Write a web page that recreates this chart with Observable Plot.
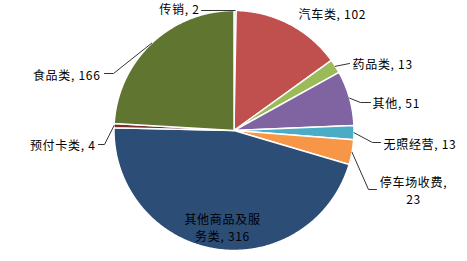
<!DOCTYPE html>
<html>
<head>
<meta charset="utf-8">
<script src="https://cdn.jsdelivr.net/npm/d3@7"></script>
<script src="https://cdn.jsdelivr.net/npm/@observablehq/plot@0.6"></script>
<style>
  html, body { margin: 0; padding: 0; background: #fff; }
  #chart svg { display: block; }
  #chart svg text { letter-spacing: 0.7px; }
</style>
</head>
<body>
<div id="chart"></div>
<script>
// ---- data ----
const categories = ["传销", "汽车类", "药品类", "其他", "无照经营", "停车场收费", "其他商品及服务类", "预付卡类", "食品类"];
const values = [2, 102, 13, 51, 13, 23, 316, 4, 166];
const colors = ["#4F81BD", "#C0504D", "#9BBB59", "#8064A2", "#4BACC6", "#F79646", "#2C4D75", "#772C2A", "#5F7530"];

// ---- label layout (in pie-radius units, center = 0,0) ----
const labelPos = [
  {x: -0.2875, y: 1.017, anchor: "end",    wrap: null, leader: [[-0.2708, 1.0]]},
  {x: 0.5375,  y: 0.975, anchor: "start",  wrap: null, leader: null},
  {x: 0.9875,  y: 0.558, anchor: "start",  wrap: null, leader: [[0.9625, 0.5583]]},
  {x: 1.1542,  y: 0.233, anchor: "start",  wrap: null, leader: [[1.1375, 0.2333], [1.0542, 0.2333]]},
  {x: 1.2458,  y: -0.108, anchor: "start", wrap: null, leader: [[1.2208, -0.1], [1.1542, -0.1]]},
  {x: 1.4958,  y: -0.50, anchor: "middle", wrap: "comma", leader: [[1.1875, -0.4917], [1.1208, -0.4917]]},
  {x: -0.0958, y: -0.808, anchor: "middle", wrap: 6, leader: null},
  {x: -1.1542, y: -0.117, anchor: "end",   wrap: null, leader: [[-1.1292, -0.1167], [-1.0792, -0.1167]]},
  {x: -1.1125, y: 0.467, anchor: "end",    wrap: null, leader: [[-1.0792, 0.475], [-1.0042, 0.475]]}
];

// ---- geometry from data ----
const total = d3.sum(values);
const toXY = (deg, r) => [r * Math.sin(deg * Math.PI / 180), r * Math.cos(deg * Math.PI / 180)];
let acc = 0;
const slices = categories.map((c, i) => {
  const a0 = acc / total * 360;
  acc += values[i];
  const a1 = acc / total * 360;
  return {c, v: values[i], a0, a1, mid: (a0 + a1) / 2};
});

const slicePts = [];
for (const s of slices) {
  slicePts.push({c: s.c, x: 0, y: 0});
  const n = Math.max(2, Math.ceil((s.a1 - s.a0) / 0.5));
  for (let k = 0; k <= n; k++) {
    const [x, y] = toXY(s.a0 + (s.a1 - s.a0) * k / n, 1);
    slicePts.push({c: s.c, x, y});
  }
  slicePts.push({c: s.c, x: 0, y: 0});
}

const leaderPts = [];
slices.forEach((s, i) => {
  const L = labelPos[i];
  if (!L.leader) return;
  for (const [x, y] of L.leader) leaderPts.push({c: s.c, x, y});
  const [ex, ey] = toXY(s.mid, 1);
  leaderPts.push({c: s.c, x: ex, y: ey});
});

const labels = slices.map((s, i) => {
  const L = labelPos[i];
  let t = `${s.c}, ${s.v}`;
  if (L.wrap === "comma") t = `${s.c},\n${s.v}`;
  else if (typeof L.wrap === "number") t = t.slice(0, L.wrap) + "\n" + t.slice(L.wrap);
  return {t, x: L.x, y: L.y, anchor: L.anchor};
});

const W = 467, H = 261, R = 120, CX = 233.5, CY = 130;

const chart = Plot.plot({
  width: W, height: H,
  margin: 0,
  x: {domain: [-CX / R, (W - CX) / R], axis: null},
  y: {domain: [-(H - CY) / R, CY / R], axis: null},
  color: {domain: categories, range: colors},
  style: {fontFamily: "'Noto Sans CJK SC', 'Noto Sans', sans-serif", fontSize: "12px", background: "#fff"},
  marks: [
    Plot.line(slicePts, {x: "x", y: "y", z: "c", fill: "c", stroke: "#fff", strokeWidth: 1.5, curve: "linear"}),
    Plot.line(leaderPts, {x: "x", y: "y", z: "c", stroke: "#333", strokeWidth: 1}),
    ...["start", "middle", "end"].map(a =>
      Plot.text(labels.filter(d => d.anchor === a), {x: "x", y: "y", text: "t", textAnchor: a, fill: "#000", fontSize: 12, lineHeight: 1.4})
    )
  ]
});
document.getElementById("chart").appendChild(chart);
</script>
</body>
</html>
